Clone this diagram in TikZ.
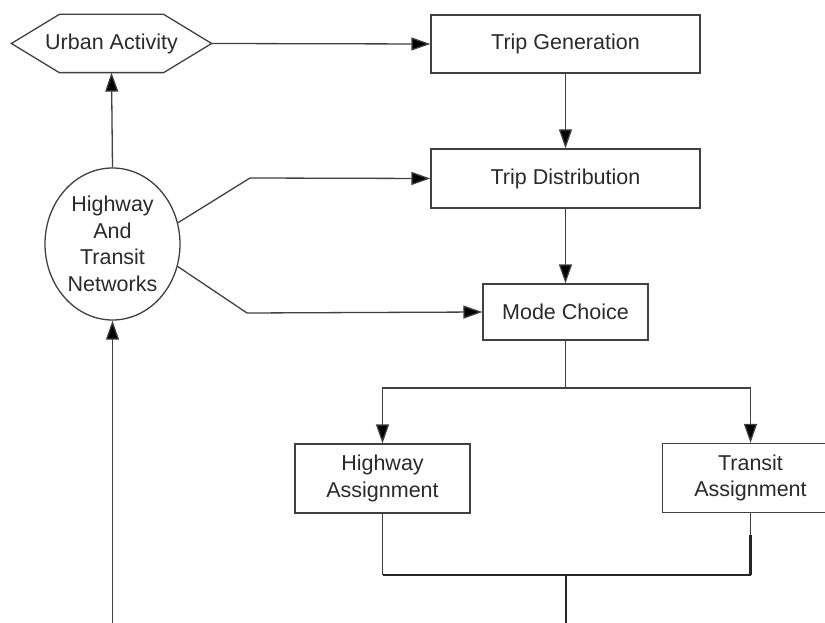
\documentclass[tikz,border=0pt]{standalone}
\usepackage{fontspec}
\setmainfont{Liberation Sans}
\usetikzlibrary{arrows.meta,shapes.geometric}
\definecolor{lc}{HTML}{404040}
\definecolor{tc}{HTML}{2A2A2A}
\tikzset{
  box/.style={draw=lc, line width=1.3pt, rectangle, align=center, text=tc, font=\fontsize{21.5}{26.5}\selectfont},
  conn/.style={draw=lc, line width=1.3pt},
  arr/.style={conn, -{Triangle[length=19pt,width=13pt,fill=black]}},
  thickjoin/.style={draw=black!85, line width=2.4pt},
}
\begin{document}
\begin{tikzpicture}[x=1pt,y=-1pt]
\useasboundingbox[fill=white] (0,0) rectangle (825,623);
% hexagon
\node[box, draw=none, minimum width=199pt, minimum height=57pt] (ua) at (111.5,43.5) {Urban Activity};
\draw[conn] (ua.west) -- ([xshift=48pt]ua.north west) -- ([xshift=-48pt]ua.north east) -- (ua.east)
  -- ([xshift=-48pt]ua.south east) -- ([xshift=48pt]ua.south west) -- cycle;
% boxes
\node[box, minimum width=269pt, minimum height=58pt] (tg) at (565.5,44) {Trip Generation};
\node[box, minimum width=269pt, minimum height=59pt] (td) at (565.5,178.5) {Trip Distribution};
\node[box, minimum width=165pt, minimum height=56pt] (mc) at (565.5,312) {Mode Choice};
\node[box, minimum width=175pt, minimum height=69pt] (ha) at (382.5,478.5) {Highway\\Assignment};
\node[box, minimum width=176pt, minimum height=69pt] (ta) at (750.5,478) {Transit\\Assignment};
% ellipse
\node[box, ellipse, minimum width=135pt, minimum height=152pt, inner sep=0pt] (hn) at (112.5,244) {Highway\\And\\Transit\\Networks};
% connectors
\draw[arr] (ua.east) -- (tg.west);
\draw[arr] (tg.south) -- (td.north);
\draw[arr] (td.south) -- (mc.north);
\draw[arr] (hn.north) -- (ua.south);
\coordinate (b1) at (250,178);
\coordinate (b2) at (247,313);
\draw[arr] (hn.18) -- (b1) -- (td.west);
\draw[arr] (hn.-19) -- (b2) -- (mc.west);
\coordinate (split) at (565.5,388);
\draw[conn] (mc.south) -- (split);
\draw[arr] (split) -| (ha.north);
\draw[arr] (split) -| (ta.north);
\coordinate (bot) at (112.5,623);
\draw[arr] (bot) -- (hn.south);
\coordinate (jn) at (566,575);
\coordinate (jb) at (566,623);
\draw[conn] (ha.south) -- (ha.south |- jn);
\draw[conn] (ta.south) -- (ta.south |- jn);
\draw[thickjoin] (ha.south |- jn) -- (ta.south |- jn);
\draw[thickjoin] (ta.south |- jn) -- ([yshift=40pt]ta.south |- jn);
\draw[thickjoin] (jn) -- (jb);
\end{tikzpicture}
\end{document}
